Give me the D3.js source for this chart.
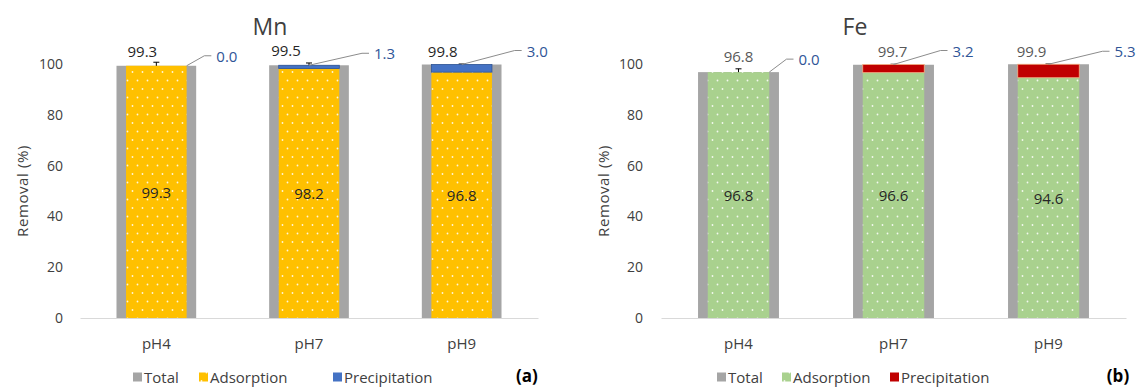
<!DOCTYPE html>
<html>
<head>
<meta charset="utf-8">
<script src="https://cdn.jsdelivr.net/npm/d3@7"></script>
<style>
  html, body { margin: 0; padding: 0; background: #ffffff; }
  svg { display: block; font-family: "Open Sans", "Noto Sans", sans-serif; }
</style>
</head>
<body>
<svg id="chart" width="1137" height="388"></svg>
<script>
// Removal of Mn and Fe at three pH levels: total, adsorption and precipitation (%)
const categories = ["pH4", "pH7", "pH9"];
const yTicks = [0, 20, 40, 60, 80, 100];
const legendLabels = ["Total", "Adsorption", "Precipitation"];

const mnTotal = [99.3, 99.5, 99.8];
const mnAdsorption = [99.3, 98.2, 96.8];
const mnPrecipitation = [0.0, 1.3, 3.0];
const mnError = [1.4, 0.9, 0.2];

const feTotal = [96.8, 99.7, 99.9];
const feAdsorption = [96.8, 96.6, 94.6];
const fePrecipitation = [0.0, 3.2, 5.3];
const feError = [1.3, 0.2, 0.1];

const svg = d3.select("#chart");
const defs = svg.append("defs");

// dotted fill used by the adsorption bars
function dotPattern(id, base) {
  const p = defs.append("pattern")
    .attr("id", id)
    .attr("patternUnits", "userSpaceOnUse")
    .attr("width", 10).attr("height", 17);
  p.append("rect").attr("width", 10).attr("height", 17).attr("fill", base);
  p.append("circle").attr("cx", 2.5).attr("cy", 4).attr("r", 0.9).attr("fill", "#ffffff").attr("opacity", 0.85);
  p.append("circle").attr("cx", 7.5).attr("cy", 12.5).attr("r", 0.9).attr("fill", "#ffffff").attr("opacity", 0.85);
}
dotPattern("dotsYellow", "#FFC000");
dotPattern("dotsGreen", "#A9D18E");

const TEXT = "#404040";

function drawPanel(cfg) {
  const g = svg.append("g");
  const x = d3.scaleBand().domain(categories).range(cfg.xRange)
    .paddingInner(0.478).paddingOuter(0.239);
  const y = d3.scaleLinear().domain([0, 100]).range([318, 64]);
  const bw = x.bandwidth();
  const iw = bw * 0.76;
  const cx = c => x(c) + bw / 2;

  // value axis (labels only)
  const yAxis = d3.axisLeft(y).tickValues(yTicks).tickSize(0).tickPadding(0);
  const ya = g.append("g").attr("transform", `translate(${cfg.yLabelX},0)`).call(yAxis);
  ya.select(".domain").remove();
  ya.selectAll("text").attr("fill", TEXT).style("font-size", "14px")
    .style("font-family", "\"Open Sans\", sans-serif");

  // category axis
  const xAxis = d3.axisBottom(x).tickSize(0).tickPadding(0);
  const xa = g.append("g").attr("transform", "translate(0,318)").call(xAxis);
  xa.select(".domain").attr("stroke", "#D9D9D9").attr("stroke-width", 1);
  xa.selectAll("text").attr("fill", TEXT).attr("dy", "2.05em").style("font-size", "15px")
    .style("font-family", "\"Open Sans\", sans-serif");

  const rows = categories.map((c, i) => ({
    c, i,
    total: cfg.total[i], ads: cfg.ads[i], pre: cfg.pre[i], err: cfg.err[i]
  }));

  // total bars
  g.selectAll(".total").data(rows).join("rect")
    .attr("x", d => x(d.c)).attr("width", bw)
    .attr("y", d => y(d.total)).attr("height", d => y(0) - y(d.total))
    .attr("fill", "#A5A5A5");

  // error bars on the total series
  const eb = g.selectAll(".err").data(rows).join("g");
  eb.append("line")
    .attr("x1", d => cx(d.c)).attr("x2", d => cx(d.c))
    .attr("y1", d => y(d.total + d.err)).attr("y2", d => y(d.total - d.err))
    .attr("stroke", "#000").attr("stroke-width", 1);
  eb.append("line")
    .attr("x1", d => cx(d.c) - 3).attr("x2", d => cx(d.c) + 3)
    .attr("y1", d => y(d.total + d.err)).attr("y2", d => y(d.total + d.err))
    .attr("stroke", "#000").attr("stroke-width", 1);

  // adsorption bars
  g.selectAll(".ads").data(rows).join("rect")
    .attr("x", d => cx(d.c) - iw / 2).attr("width", iw)
    .attr("y", d => y(d.ads)).attr("height", d => y(0) - y(d.ads))
    .attr("fill", cfg.adsFill);

  // precipitation stacked on adsorption
  g.selectAll(".pre").data(rows.filter(d => d.pre > 0)).join("rect")
    .attr("x", d => cx(d.c) - iw / 2).attr("width", iw)
    .attr("y", d => y(d.ads + d.pre)).attr("height", d => y(d.ads) - y(d.ads + d.pre))
    .attr("fill", cfg.preColor)
    .attr("stroke", cfg.preEdge).attr("stroke-width", 0.8);

  // adsorption values in the bar middle
  g.selectAll(".adsLab").data(rows).join("text")
    .attr("x", d => cx(d.c)).attr("y", d => y(d.ads / 2))
    .attr("text-anchor", "middle").attr("dominant-baseline", "central")
    .attr("fill", "#262626").style("font-size", "15px")
    .text(d => d3.format(".1f")(d.ads));

  // total values above the bars
  g.selectAll(".totLab").data(rows).join("text")
    .attr("x", d => cx(d.c) + cfg.totalDx[d.i]).attr("y", d => y(d.total) - cfg.totalDy[d.i])
    .attr("text-anchor", "middle").attr("dominant-baseline", "central")
    .attr("fill", cfg.totalColor).style("font-size", "15px")
    .text(d => d3.format(".1f")(d.total));

  // precipitation values with leader lines
  rows.forEach(d => {
    const topY = y(d.ads + d.pre);
    const lx = cx(d.c) + cfg.preDx[d.i];
    const ly = topY - cfg.preDy[d.i];
    const sx = d.pre > 0 ? cx(d.c) : cx(d.c) + iw / 2;
    const sy = d.pre > 0 ? topY : y(d.ads);
    g.append("polyline")
      .attr("points", `${sx},${sy} ${lx - 12},${ly} ${lx - 5},${ly}`)
      .attr("fill", "none").attr("stroke", "#8C8C8C").attr("stroke-width", 1);
    g.append("text")
      .attr("x", lx).attr("y", ly)
      .attr("dominant-baseline", "central")
      .attr("fill", "#2F5597").style("font-size", "15px")
      .text(d3.format(".1f")(d.pre));
  });

  // title
  g.append("text").attr("x", cfg.titleX).attr("y", 26)
    .attr("text-anchor", "middle").attr("dominant-baseline", "central")
    .attr("fill", TEXT).style("font-size", "23px").text(cfg.title);

  // value axis title
  g.append("text")
    .attr("transform", `translate(${cfg.yTitleX},191) rotate(-90)`)
    .attr("text-anchor", "middle").attr("dominant-baseline", "central")
    .attr("fill", TEXT).style("font-size", "15px").style("letter-spacing", "0.6px")
    .text("Removal (%)");

  // legend
  const swatches = ["#A5A5A5", cfg.adsFill, cfg.preColor];
  const lg = g.selectAll(".leg").data(legendLabels).join("g")
    .attr("transform", (d, i) => `translate(${cfg.legendX[i]},377)`);
  lg.append("rect").attr("x", -10).attr("y", -4.5).attr("width", 9).attr("height", 9)
    .attr("fill", (d, i) => swatches[i]);
  lg.append("text").attr("x", 1).attr("y", 0).attr("dominant-baseline", "central")
    .attr("fill", TEXT).style("font-size", "15px").text(d => d);

  // panel tag
  g.append("text").attr("x", cfg.tagX).attr("y", 375)
    .attr("text-anchor", "middle").attr("dominant-baseline", "central")
    .attr("fill", "#000").style("font-size", "17px").style("font-weight", "bold")
    .text(cfg.tag);
}

drawPanel({
  title: "Mn", tag: "(a)",
  total: mnTotal, ads: mnAdsorption, pre: mnPrecipitation, err: mnError,
  xRange: [80, 538], yLabelX: 63, yTitleX: 22, titleX: 270, tagX: 527,
  adsFill: "url(#dotsYellow)", preColor: "#4472C4", preEdge: "#2F5597",
  totalColor: "#262626",
  totalDx: [-14, -23, -19], totalDy: [15, 15, 14],
  preDx: [60, 65, 65], preDy: [10, 12, 14],
  legendX: [143, 209, 343]
});

drawPanel({
  title: "Fe", tag: "(b)",
  total: feTotal, ads: feAdsorption, pre: fePrecipitation, err: feError,
  xRange: [661, 1126], yLabelX: 643, yTitleX: 603, titleX: 855, tagX: 1118,
  adsFill: "url(#dotsGreen)", preColor: "#C00000", preEdge: "#F4B183",
  totalColor: "#595959",
  totalDx: [0, -1, -17], totalDy: [16, 14, 13],
  preDx: [60, 59, 66], preDy: [13, 14, 13],
  legendX: [727, 792, 900]
});
</script>
</body>
</html>
